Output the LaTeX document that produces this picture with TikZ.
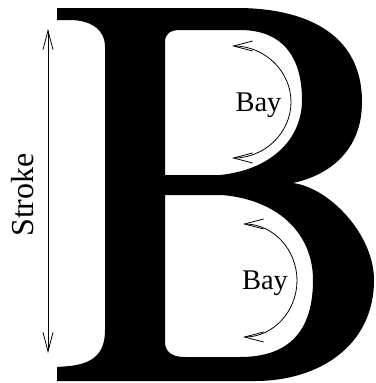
\documentclass[tikz,border=0pt]{standalone}
\usepackage{fontspec}
\setmainfont{Liberation Serif}
\usetikzlibrary{arrows.meta}
\begin{document}
\begin{tikzpicture}[x=1pt,y=-1pt,
        dimarrow/.style={{Straight Barb[length=19pt,width=10pt]}-{Straight Barb[length=19pt,width=10pt]},line width=0.8pt},
        lbl/.style={inner sep=0pt,font=\fontsize{28.5}{30}\selectfont}]
        \useasboundingbox (0,0) rectangle (375,383);
        % the letter B, outline and two bays
        \fill[black,even odd rule]
            (57,8) -- (237,8) .. controls (300,8) and (362,30) .. (362,102)
            .. controls (362,150) and (330,175) .. (293,183)
            .. controls (330,188) and (374,235) .. (374,280)
            .. controls (374,345) and (320,381) .. (255,381) -- (57,381) -- (57,367) -- (70,366)
            .. controls (95,363) and (105,352) .. (105,330) -- (105,47)
            .. controls (105,30) and (92,21) .. (72,20) -- (57,20) -- cycle
            (165,42) .. controls (165,34) and (170,30) .. (180,30) -- (240,30)
            .. controls (285,30) and (302,60) .. (302,100)
            .. controls (302,140) and (270,170) .. (220,175) -- (165,175) -- cycle
            (165,195) -- (222,195) .. controls (280,200) and (313,235) .. (313,280)
            .. controls (313,330) and (290,357) .. (240,357) -- (185,357)
            .. controls (172,357) and (165,352) .. (165,342) -- cycle;

        \coordinate (stop) at (48,29);
        \coordinate (sbot) at (48,353);
        \draw[dimarrow] (stop) -- (sbot);
        \node[lbl,rotate=90,font=\fontsize{32}{34}\selectfont] (stroke) at (22.5,195) {Stroke};

        \coordinate (bayA) at (232,46);
        \draw[dimarrow] (bayA) arc[start angle=-90,end angle=90,x radius=59,y radius=56];
        \node[lbl,anchor=base] (bayupper) at (258.5,111) {Bay};

        \coordinate (bayB) at (243,224);
        \draw[dimarrow] (bayB) arc[start angle=-90,end angle=90,x radius=54,y radius=56.5];
        \node[lbl,anchor=base] (baylower) at (265,289) {Bay};
\end{tikzpicture}
\end{document}
